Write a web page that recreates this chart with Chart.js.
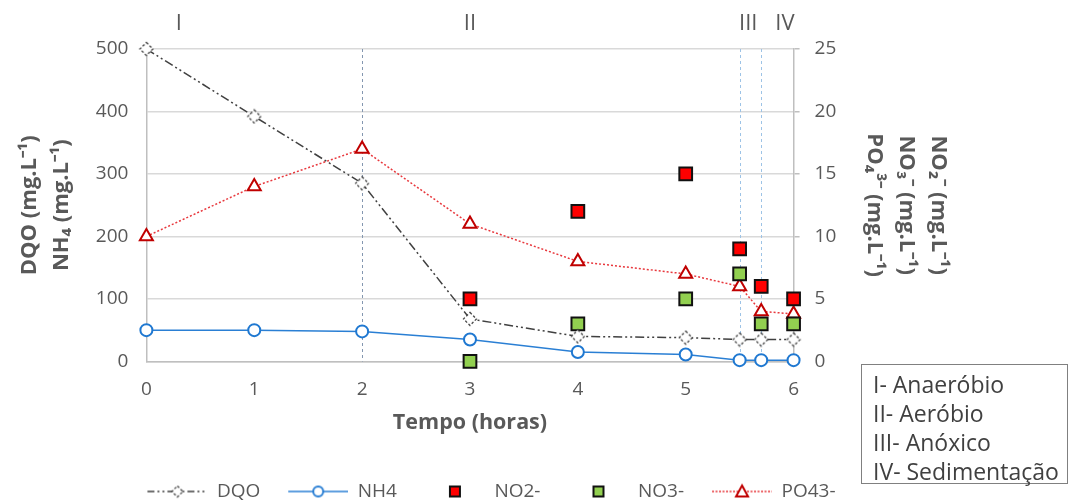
<!DOCTYPE html>
<html>
<head>
<meta charset="utf-8">
<script src="https://cdn.jsdelivr.net/npm/chart.js@4"></script>
<style>
  html, body { margin: 0; padding: 0; background: #fff; }
  #wrap { position: relative; width: 1070px; height: 501px; overflow: hidden; }
  #fases { position: absolute; left: 861px; top: 364px; width: 194px; height: 113px;
    border: 1px solid #808080; padding: 5px 0 0 11px; font-family: 'Open Sans', sans-serif;
    font-size: 23px; line-height: 29px; color: #404040; background: #fff; white-space: nowrap; }
</style>
</head>
<body>
<div id="wrap">
  <canvas id="c" width="1070" height="501"></canvas>
  <div id="fases">I- Anaeróbio<br>II- Aeróbio<br>III- Anóxico<br>IV- Sedimentação</div>
</div>
<script>
// ---- data ----
const tempo = [0, 1, 2, 3, 4, 5, 5.5, 5.7, 6];
const dqo   = [500, 392, 285, 68, 40, 38, 35, 35, 35];
const nh4   = [50, 50, 48, 35, 15, 11, 2, 2, 2];
const no2   = [null, null, null, 5, 12, 15, 9, 6, 5];
const no3   = [null, null, null, 0, 3, 5, 7, 3, 3];
const po4   = [10, 14, 17, 11, 8, 7, 6, 4, 3.8];
const seriesNames = ['DQO', 'NH4', 'NO2-', 'NO3-', 'PO43-'];
const faseLabels = ['I', 'II', 'III', 'IV'];
const faseLabelX = [0.3, 3.0, 5.58, 5.92];
const faseLines = [2, 5.5, 5.7];
const xTicks = [0, 1, 2, 3, 4, 5, 6];

const pts = arr => tempo.map((t, i) => ({x: t, y: arr[i]})).filter(p => p.y !== null);

const FONT = "'Open Sans', sans-serif";
const GRAY = '#595959';

// ---- marker / legend images ----
function diamondCanvas() {
  const c = document.createElement('canvas'); c.width = 16; c.height = 16;
  const g = c.getContext('2d');
  drawDiamond(g, 8, 8, 6.5);
  return c;
}
function drawDiamond(g, cx, cy, r) {
  g.save();
  g.beginPath();
  g.moveTo(cx, cy - r); g.lineTo(cx + r, cy); g.lineTo(cx, cy + r); g.lineTo(cx - r, cy); g.closePath();
  g.fillStyle = '#fff'; g.fill();
  g.setLineDash([2.5, 2]); g.strokeStyle = '#404040'; g.lineWidth = 1.3; g.stroke();
  g.restore();
}
const LW = 88, LH = 18, BLANK = 28;
function legendCanvas(kind) {
  const c = document.createElement('canvas'); c.width = LW; c.height = LH;
  const g = c.getContext('2d');
  const x0 = BLANK, x1 = LW, cy = LH / 2, cx = (x0 + x1) / 2;
  if (kind === 'dqo') {
    g.strokeStyle = '#404040'; g.lineWidth = 1.5; g.setLineDash([7, 3, 2, 3, 2, 3]);
    g.beginPath(); g.moveTo(x0, cy); g.lineTo(x1, cy); g.stroke(); g.setLineDash([]);
    drawDiamond(g, cx, cy, 5.5);
  } else if (kind === 'nh4') {
    g.strokeStyle = '#2a7fd4'; g.lineWidth = 1.5;
    g.beginPath(); g.moveTo(x0, cy); g.lineTo(x1, cy); g.stroke();
    g.beginPath(); g.arc(cx, cy, 5, 0, Math.PI * 2); g.fillStyle = '#fff'; g.fill();
    g.lineWidth = 2; g.stroke();
  } else if (kind === 'no2' || kind === 'no3') {
    g.fillStyle = kind === 'no2' ? '#ff0000' : '#92d050';
    g.fillRect(cx - 5, cy - 5, 10, 10);
    g.strokeStyle = '#111'; g.lineWidth = 2; g.strokeRect(cx - 5, cy - 5, 10, 10);
  } else if (kind === 'po4') {
    g.strokeStyle = '#e8383d'; g.lineWidth = 1.3; g.setLineDash([2, 1.5]);
    g.beginPath(); g.moveTo(x0, cy); g.lineTo(x1, cy); g.stroke(); g.setLineDash([]);
    g.beginPath(); g.moveTo(cx, cy - 6); g.lineTo(cx + 6, cy + 5); g.lineTo(cx - 6, cy + 5); g.closePath();
    g.fillStyle = '#fff'; g.fill(); g.strokeStyle = '#c00000'; g.lineWidth = 2; g.stroke();
  }
  return c;
}
const legendImgs = [legendCanvas('dqo'), legendCanvas('nh4'), legendCanvas('no2'), legendCanvas('no3'), legendCanvas('po4')];

// ---- plugin: phase lines + labels ----
const fasesPlugin = {
  id: 'fases',
  beforeDatasetsDraw(chart) {
    const {ctx, chartArea, scales} = chart;
    ctx.save();
    faseLines.forEach((v, i) => {
      const x = Math.round(scales.x.getPixelForValue(v)) + 0.5;
      ctx.strokeStyle = i === 0 ? '#8497b0' : '#9dc3e6';
      ctx.lineWidth = 1;
      ctx.setLineDash([3, 3]);
      ctx.beginPath(); ctx.moveTo(x, chartArea.top); ctx.lineTo(x, chartArea.bottom); ctx.stroke();
    });
    ctx.restore();
  },
  afterDraw(chart) {
    const {ctx, scales} = chart;
    ctx.save();
    ctx.font = '22px ' + FONT;
    ctx.fillStyle = GRAY;
    ctx.textAlign = 'center';
    ctx.textBaseline = 'middle';
    faseLabels.forEach((t, i) => ctx.fillText(t, scales.x.getPixelForValue(faseLabelX[i]), 24));
    ctx.restore();
  }
};

Chart.defaults.font.family = FONT;
Chart.defaults.color = GRAY;

new Chart(document.getElementById('c'), {
  type: 'line',
  data: {
    datasets: [
      { label: seriesNames[0], data: pts(dqo), yAxisID: 'y', borderColor: '#404040', borderWidth: 1.5,
        borderDash: [9, 3, 2, 3, 2, 3], pointStyle: diamondCanvas(), pointRadius: 7, tension: 0, clip: false },
      { label: seriesNames[1], data: pts(nh4), yAxisID: 'y', borderColor: '#2a7fd4', borderWidth: 1.5,
        pointStyle: 'circle', pointRadius: 6, pointBorderWidth: 2, pointBackgroundColor: '#fff',
        pointBorderColor: '#1f78d1', tension: 0, clip: false },
      { label: seriesNames[2], data: pts(no2), yAxisID: 'y2', showLine: false, pointStyle: 'rect',
        pointRadius: 9, pointBorderWidth: 2, pointBackgroundColor: '#ff0000', pointBorderColor: '#111',
        borderColor: '#111', backgroundColor: '#ff0000', clip: false },
      { label: seriesNames[3], data: pts(no3), yAxisID: 'y2', showLine: false, pointStyle: 'rect',
        pointRadius: 9, pointBorderWidth: 2, pointBackgroundColor: '#92d050', pointBorderColor: '#111',
        borderColor: '#111', backgroundColor: '#92d050', clip: false },
      { label: seriesNames[4], data: pts(po4), yAxisID: 'y2', borderColor: '#e8383d', borderWidth: 1.5,
        borderDash: [2, 2], pointStyle: 'triangle', pointRadius: 7.5, pointBorderWidth: 2,
        pointBackgroundColor: '#fff', pointBorderColor: '#c00000', tension: 0, clip: false }
    ]
  },
  options: {
    responsive: false,
    animation: false,
    devicePixelRatio: 1,
    layout: { padding: { left: 0, right: 115, top: 49, bottom: -10 } },
    plugins: {
      legend: {
        position: 'bottom',
        labels: {
          usePointStyle: true,
          pointStyleWidth: LW,
          padding: 0,
          color: GRAY,
          font: { size: 19 },
          generateLabels: chart => chart.data.datasets.map((ds, i) => ({
            text: ds.label, pointStyle: legendImgs[i], fontColor: GRAY, datasetIndex: i,
            hidden: false, lineWidth: 0, strokeStyle: 'rgba(0,0,0,0)', fillStyle: 'rgba(0,0,0,0)'
          }))
        },
        onClick: () => {}
      },
      tooltip: { enabled: false }
    },
    scales: {
      x: {
        type: 'linear', min: 0, max: 6,
        afterBuildTicks: s => { s.ticks = xTicks.map(v => ({value: v})); },
        ticks: { padding: 17, font: { size: 19 }, color: GRAY },
        grid: { display: false, drawTicks: false },
        border: { color: '#bfbfbf', width: 1.5 },
        title: { display: true, text: 'Tempo (horas)', color: GRAY,
          font: { size: 21.5, weight: 'bold' }, padding: { top: -8, bottom: 46 } }
      },
      y: {
        position: 'left', min: 0, max: 500,
        ticks: { stepSize: 100, padding: 18, font: { size: 19 }, color: GRAY },
        grid: { color: '#d9d9d9', lineWidth: 1.5, drawTicks: false },
        border: { color: '#bfbfbf', width: 1.5 },
        title: { display: true, text: ['DQO (mg.L⁻¹)', 'NH₄ (mg.L⁻¹)'], color: GRAY,
          font: { size: 22, weight: 'bold', lineHeight: 1.45 }, padding: { top: 14, bottom: 0 } }
      },
      y2: {
        position: 'right', min: 0, max: 25,
        ticks: { stepSize: 5, padding: 15, font: { size: 19 }, color: GRAY },
        grid: { drawOnChartArea: false, color: '#bfbfbf', lineWidth: 1.5, tickLength: 6 },
        border: { color: '#bfbfbf', width: 1.5 },
        title: { display: true, text: ['NO₂⁻ (mg.L⁻¹)', 'NO₃⁻ (mg.L⁻¹)', 'PO₄³⁻ (mg.L⁻¹)'], color: GRAY,
          font: { size: 22, weight: 'bold', lineHeight: 1.45 }, padding: { top: 1, bottom: 7 } }
      }
    }
  },
  plugins: [fasesPlugin]
});
</script>
</body>
</html>
